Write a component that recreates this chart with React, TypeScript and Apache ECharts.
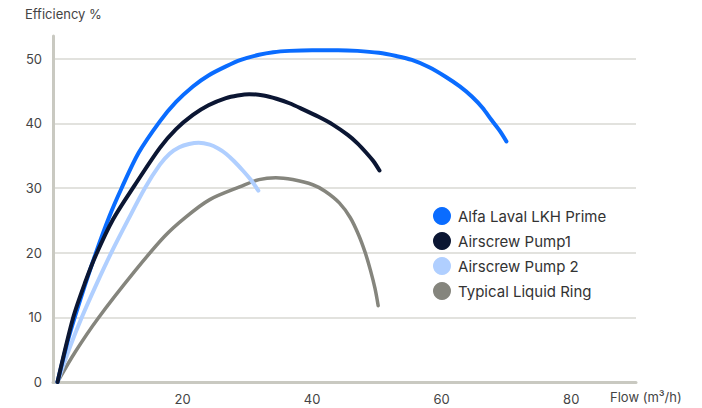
import React, { useEffect, useRef } from "react";
import * as echarts from "echarts";

const seriesNames = ["Alfa Laval LKH Prime", "Airscrew Pump1", "Airscrew Pump 2", "Typical Liquid Ring"];

const lkhPrime: [number, number][] = [
  [0.7, 0], [2.4, 6.8], [4.2, 12.7], [6.6, 19.9], [8.7, 25.6], [10.6, 30], [13.2, 35.4],
  [16.5, 40.3], [19, 43.3], [21.6, 45.7], [24, 47.4], [26.7, 48.8], [29, 49.8], [31.8, 50.6],
  [34, 51], [36.5, 51.2], [40, 51.3], [44, 51.3], [47, 51.2], [50.3, 50.9], [53, 50.4],
  [55.4, 49.8], [58, 48.7], [60.6, 47.2], [62.8, 45.7], [64.7, 44.1], [66.3, 42.4],
  [67.7, 40.5], [69, 38.8], [70, 37.2],
];
const airscrew1: [number, number][] = [
  [0.7, 0], [3.1, 9.9], [5, 15.5], [6.7, 19.8], [9.3, 25.2], [12.6, 30.4], [16.5, 36.2],
  [19, 39.1], [21.6, 41.3], [24, 42.8], [26.7, 43.9], [28.5, 44.3], [30.3, 44.5], [32.5, 44.3],
  [34.5, 43.8], [36.5, 43.1], [38.5, 42.2], [41, 41], [43.2, 39.8], [45.5, 38.2], [47, 36.9],
  [48.4, 35.4], [49.5, 34.1], [50.4, 32.7],
];
const airscrew2: [number, number][] = [
  [0.7, 0], [2.5, 5.1], [4.4, 9.9], [6.7, 15.1], [9, 20], [11.6, 25.1], [14.2, 30],
  [16.5, 33.6], [18, 35.3], [19.5, 36.3], [21, 36.8], [22.5, 37], [24.2, 36.7], [25.5, 36.1],
  [26.7, 35.3], [28, 34.1], [29.3, 32.7], [30.5, 31.3], [31.7, 29.6],
];
const liquidRing: [number, number][] = [
  [0.7, 0], [3.4, 4.6], [7, 9.9], [12.6, 17.1], [17.2, 22.5], [20.5, 25.5], [24.2, 28.2],
  [28.9, 30.2], [31.8, 31.3], [34.4, 31.6], [37, 31.3], [40.1, 30.5], [42, 29.5], [44.2, 27.7],
  [45.9, 25.4], [47.2, 22.7], [48.2, 20], [49, 17.3], [49.7, 14.5], [50.2, 11.8],
];

const xTickLabels = [20, 40, 60, 80];
const yTickLabels = [0, 10, 20, 30, 40, 50];

const colors = {
  lkh: "#0a6cff",
  a1: "#0b1633",
  a2: "#b0cfff",
  ring: "#85857d",
};

const FONT = "Inter, 'Noto Sans', sans-serif";

export default function App() {
  const ref = useRef<HTMLDivElement>(null);
  useEffect(() => {
    if (!ref.current) return;
    const chart = echarts.init(ref.current, undefined, { renderer: "svg" });
    const mk = (name: string, data: [number, number][], color: string, width: number) => ({
      name,
      type: "line",
      data,
      smooth: 0.3,
      showSymbol: false,
      symbol: "circle",
      itemStyle: { color },
      lineStyle: { color, width, cap: "round", join: "round" },
    });
    chart.setOption({
      animation: false,
      textStyle: { fontFamily: FONT },
      grid: { left: 53, right: 66, top: 36, bottom: 26 },
      legend: {
        orient: "vertical",
        left: 428,
        top: 202,
        data: seriesNames,
        icon: "circle",
        itemWidth: 18,
        itemHeight: 18,
        itemGap: 7,
        textStyle: { fontFamily: FONT, fontSize: 15, color: "#333", padding: [0, 0, 0, 2] },
      },
      xAxis: {
        type: "value",
        min: 0,
        max: 90,
        interval: 20,
        axisLine: { show: true, lineStyle: { color: "#c9c9c1", width: 3 } },
        axisTick: { show: false },
        splitLine: { show: false },
        axisLabel: {
          color: "#444",
          fontSize: 13,
          fontFamily: FONT,
          margin: 10,
          formatter: (v: number) => (xTickLabels.includes(v) ? String(v) : ""),
        },
      },
      yAxis: {
        type: "value",
        min: 0,
        max: 53.5,
        interval: 10,
        axisLine: { show: true, lineStyle: { color: "#c9c9c1", width: 3 } },
        axisTick: { show: false },
        splitLine: { show: true, showMaxLine: false, lineStyle: { color: "#d9d9d3", width: 1.5 } },
        axisLabel: {
          color: "#444",
          fontSize: 13,
          fontFamily: FONT,
          margin: 11,
          showMaxLabel: false,
          formatter: (v: number) => (yTickLabels.includes(v) ? String(v) : ""),
        },
      },
      graphic: [
        {
          type: "text",
          left: 25,
          top: 7,
          style: { text: "Efficiency %", fontSize: 13, fontFamily: FONT, fill: "#444" },
        },
        {
          type: "text",
          left: 610,
          top: 390,
          style: { text: "Flow (m³/h)", fontSize: 13, fontFamily: FONT, fill: "#444" },
        },
      ],
      series: [
        mk(seriesNames[3], liquidRing, colors.ring, 3.5),
        mk(seriesNames[2], airscrew2, colors.a2, 4),
        mk(seriesNames[0], lkhPrime, colors.lkh, 4),
        mk(seriesNames[1], airscrew1, colors.a1, 4),
      ],
    });
    return () => chart.dispose();
  }, []);
  return (
    <div
      ref={ref}
      style={{ position: "absolute", left: 0, top: 0, width: 702, height: 408 }}
    />
  );
}
